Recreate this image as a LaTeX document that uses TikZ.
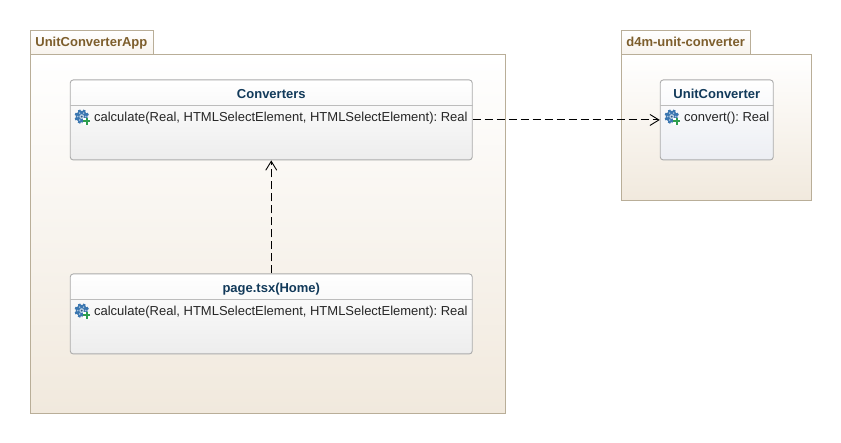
\documentclass[tikz,border=0pt]{standalone}
\usepackage{fontspec}
\setmainfont{Liberation Sans}
\frenchspacing
\usetikzlibrary{arrows.meta,shapes.geometric}
\definecolor{pkgline}{HTML}{B9AE98}
\definecolor{pkgtop}{HTML}{FFFFFF}
\definecolor{pkgbot}{HTML}{F1E9DD}
\definecolor{pkgtext}{HTML}{7D5E2C}
\definecolor{clsline}{HTML}{ABABAB}
\definecolor{clstext}{HTML}{123A5A}
\definecolor{clsbot}{HTML}{EDEDED}
\definecolor{clsbotb}{HTML}{ECEEF3}
\definecolor{gearblue}{HTML}{3A76B0}
\definecolor{plusgreen}{HTML}{2E9E4F}
\tikzset{
  pkgbody/.style={draw=pkgline,line width=0.9pt,top color=pkgtop,bottom color=pkgbot,anchor=north west,inner sep=0pt},
  pkgtab/.style={draw=pkgline,line width=0.9pt,top color=pkgtop,bottom color=pkgtop!45!pkgbot,anchor=north west,inner sep=0pt},
  pkglabel/.style={text=pkgtext,font=\bfseries\fontsize{13}{15}\selectfont,anchor=base west,inner sep=0pt},
  classbox/.style={draw=clsline,line width=0.9pt,rounded corners=3pt,top color=white,bottom color=clsbot,anchor=north west,inner sep=0pt},
  classtitle/.style={text=clstext,font=\bfseries\fontsize{13}{15}\selectfont,anchor=base,inner sep=0pt},
  opname/.style={text=black!85,font=\fontsize{13}{15}\selectfont,anchor=base west,inner sep=0pt},
  sep/.style={draw=clsline!80,line width=0.7pt},
  dep/.style={draw=black,line width=0.9pt,dash pattern=on 8pt off 4pt,-{Straight Barb[length=9pt,width=11pt,line width=0.9pt]}},
  gearicon/.pic={
    \foreach \a in {0,45,...,315}{\fill[gearblue,rotate=\a+22] (-1.2,-7) rectangle (1.2,7);}
    \fill[gearblue] (0,0) circle (5.8);
    \foreach \a in {0,60,...,300}{\fill[white!55!gearblue] (\a:4) circle (0.9);}
    \fill[white!65!gearblue] (0,0) circle (2.4);
    \fill[gearblue!75!black] (0,0) circle (1);
    \fill[white] (1.4,1.2) rectangle (8.6,8.4);
    \fill[plusgreen] (3.9,1.5) rectangle (6.1,8.1);
    \fill[plusgreen] (1.7,3.7) rectangle (8.3,5.9);
  }
}
\begin{document}
\begin{tikzpicture}[x=1pt,y=-1pt]
\useasboundingbox (0.7,0) rectangle (841.7,443);
\fill[white] (0.7,0) rectangle (841.7,443);
% packages
\node[pkgtab,minimum width=123.5pt,minimum height=24pt] (apptab) at (30.5,30.5) {};
\node[pkgbody,minimum width=475pt,minimum height=359pt] (app) at (30.5,54.5) {};
\node[pkglabel] (applabel) at (35.9,47) {UnitConverterApp};
\node[pkgtab,minimum width=129pt,minimum height=24pt] (libtab) at (621.5,30.5) {};
\node[pkgbody,minimum width=190pt,minimum height=146pt] (lib) at (621.5,54.5) {};
\node[pkglabel] (liblabel) at (626.9,47) {d4m-unit-converter};
% classes
\node[classbox,minimum width=402pt,minimum height=80pt] (conv) at (70.5,79.5) {};
\node[classbox,minimum width=402pt,minimum height=80pt] (page) at (70.5,273.5) {};
\node[classbox,bottom color=clsbotb,minimum width=113pt,minimum height=80pt] (uc) at (660.5,79.5) {};
\draw[sep] (conv.west |- 0,105.5) -- (conv.east |- 0,105.5);
\draw[sep] (page.west |- 0,299.5) -- (page.east |- 0,299.5);
\draw[sep] (uc.west |- 0,105.5) -- (uc.east |- 0,105.5);
\node[classtitle] (convt) at (272,98.6) {Converters};
\node[classtitle] (paget) at (272,292.6) {page.tsx(Home)};
\node[classtitle] (uct) at (717.5,98.6) {UnitConverter};
\pic at (82.4,116.6) {gearicon};
\pic at (82.4,310.6) {gearicon};
\pic at (672.4,116.6) {gearicon};
\node[opname] (convop) at (94.6,122) {calculate(Real, HTMLSelectElement, HTMLSelectElement): Real};
\node[opname] (pageop) at (94.6,316) {calculate(Real, HTMLSelectElement, HTMLSelectElement): Real};
\node[opname] (ucop) at (684.6,122) {convert(): Real};
% dependencies
\draw[dep] (page.north) -- (conv.south);
\draw[dep] (conv.east) -- (uc.west);
\end{tikzpicture}
\end{document}
